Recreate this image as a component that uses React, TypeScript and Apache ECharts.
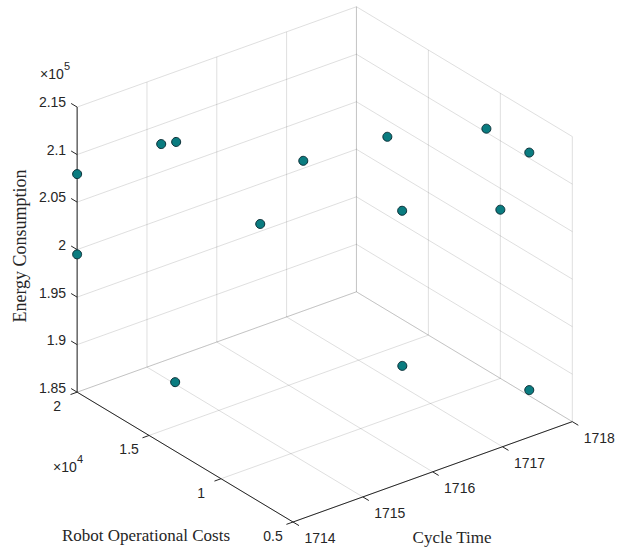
import React, { useEffect, useRef } from "react";
import * as echarts from "echarts";

// ---- data ----
const cycleTime = [1714, 1714, 1715, 1715, 1716, 1716, 1717, 1716, 1718, 1718, 1718, 1715, 1717, 1718];
const robotCosts = [20000, 20000, 19010, 17970, 16980, 13990, 13000, 7120, 10970, 7990, 10000, 18040, 11960, 7990];
const energy = [207950, 199500, 209370, 210540, 200170, 209540, 210330, 210540, 210390, 210590, 202750, 185200, 187170, 185600];

const ctTicks = [1714, 1715, 1716, 1717, 1718];
const ctTickLabels = ["1714", "1715", "1716", "1717", "1718"];
const rocTicks = [5000, 10000, 15000, 20000];
const rocTickLabels = ["0.5", "1", "1.5", "2"];
const eTicks = [185000, 190000, 195000, 200000, 205000, 210000, 215000];
const eTickLabels = ["1.85", "1.9", "1.95", "2", "2.05", "2.1", "2.15"];

const CT_MIN = 1714, CT_MAX = 1718;
const ROC_MIN = 5000, ROC_MAX = 20000;
const E_MIN = 185000, E_MAX = 215000;

// ---- view (orthographic 3D projection) ----
const AZ = (37.7 * Math.PI) / 180;
const EL = (27.7 * Math.PI) / 180;
const BOX = [353, 353, 322];
const ORIGIN = [293, 522];

function project(ct: number, roc: number, e: number): [number, number] {
  const u = (ct - CT_MIN) / (CT_MAX - CT_MIN);
  const v = (roc - ROC_MIN) / (ROC_MAX - ROC_MIN);
  const w = (e - E_MIN) / (E_MAX - E_MIN);
  const x = ORIGIN[0] + BOX[0] * u * Math.cos(AZ) - BOX[1] * v * Math.sin(AZ);
  const y =
    ORIGIN[1] -
    (BOX[0] * u * Math.sin(AZ) + BOX[1] * v * Math.cos(AZ)) * Math.sin(EL) -
    BOX[2] * w * Math.cos(EL);
  return [x, y];
}

function seg(a: [number, number, number], b: [number, number, number]) {
  const p = project(a[0], a[1], a[2]);
  const q = project(b[0], b[1], b[2]);
  return [p[0], p[1], q[0], q[1]];
}

function unitDir(a: [number, number], b: [number, number]): [number, number] {
  const dx = b[0] - a[0], dy = b[1] - a[1];
  const l = Math.hypot(dx, dy);
  return [dx / l, dy / l];
}

const TICK_LEN = 7;
const SANS = "Liberation Sans, Arial, sans-serif";
const SERIF = "Liberation Serif, Times New Roman, serif";
const TXT = "#262626";

export default function App() {
  const ref = useRef<HTMLDivElement>(null);

  useEffect(() => {
    if (!ref.current) return;
    const chart = echarts.init(ref.current, undefined, { renderer: "svg" });

    // grid lines
    const gridSegs: number[][] = [];
    // back-left wall (ROC = max)
    ctTicks.forEach((ct) => gridSegs.push(seg([ct, ROC_MAX, E_MIN], [ct, ROC_MAX, E_MAX])));
    eTicks.forEach((e) => gridSegs.push(seg([CT_MIN, ROC_MAX, e], [CT_MAX, ROC_MAX, e])));
    // back-right wall (CT = max)
    rocTicks.forEach((r) => gridSegs.push(seg([CT_MAX, r, E_MIN], [CT_MAX, r, E_MAX])));
    eTicks.forEach((e) => gridSegs.push(seg([CT_MAX, ROC_MIN, e], [CT_MAX, ROC_MAX, e])));
    // floor
    ctTicks.forEach((ct) => gridSegs.push(seg([ct, ROC_MIN, E_MIN], [ct, ROC_MAX, E_MIN])));
    rocTicks.forEach((r) => gridSegs.push(seg([CT_MIN, r, E_MIN], [CT_MAX, r, E_MIN])));

    // axis directions
    const o = project(CT_MIN, ROC_MIN, E_MIN);
    const ctDir = unitDir(o, project(CT_MAX, ROC_MIN, E_MIN));
    const rocDir = unitDir(o, project(CT_MIN, ROC_MAX, E_MIN));

    const axisSegs: number[][] = [];
    axisSegs.push(seg([CT_MIN, ROC_MAX, E_MIN], [CT_MIN, ROC_MAX, E_MAX]));
    axisSegs.push(seg([CT_MIN, ROC_MIN, E_MIN], [CT_MIN, ROC_MAX, E_MIN]));
    axisSegs.push(seg([CT_MIN, ROC_MIN, E_MIN], [CT_MAX, ROC_MIN, E_MIN]));

    const labelPts: number[][] = [];
    const labelTexts: string[] = [];
    const labelAlign: string[] = [];

    // z ticks (pointing +ROC)
    eTicks.forEach((e, i) => {
      const p = project(CT_MIN, ROC_MAX, e);
      const q = [p[0] + rocDir[0] * TICK_LEN, p[1] + rocDir[1] * TICK_LEN];
      axisSegs.push([p[0], p[1], q[0], q[1]]);
      labelPts.push([q[0] - 5, q[1] - 1]);
      labelTexts.push(eTickLabels[i]);
      labelAlign.push("right");
    });
    // ROC ticks (pointing -CT)
    rocTicks.forEach((r, i) => {
      const p = project(CT_MIN, r, E_MIN);
      axisSegs.push([p[0], p[1], p[0] - ctDir[0] * TICK_LEN, p[1] - ctDir[1] * TICK_LEN]);
      labelPts.push([p[0] - 20, p[1] + 14]);
      labelTexts.push(rocTickLabels[i]);
      labelAlign.push("center");
    });
    // CT ticks (pointing -ROC)
    ctTicks.forEach((c, i) => {
      const p = project(c, ROC_MIN, E_MIN);
      axisSegs.push([p[0], p[1], p[0] - rocDir[0] * TICK_LEN, p[1] - rocDir[1] * TICK_LEN]);
      labelPts.push([p[0] + 27, p[1] + 16]);
      labelTexts.push(ctTickLabels[i]);
      labelAlign.push("center");
    });

    const points = cycleTime.map((ct, i) => project(ct, robotCosts[i], energy[i]));

    const lineRender = (stroke: string, lw: number) => (params: any, api: any) => {
      const a = api.coord([api.value(0), api.value(1)]);
      const b = api.coord([api.value(2), api.value(3)]);
      return {
        type: "line",
        shape: { x1: a[0], y1: a[1], x2: b[0], y2: b[1] },
        style: { stroke, lineWidth: lw },
      };
    };

    const option: any = {
      animation: false,
      backgroundColor: "#ffffff",
      grid: { left: 0, right: 0, top: 0, bottom: 0 },
      xAxis: { type: "value", min: 0, max: 626, show: false },
      yAxis: { type: "value", min: 0, max: 550, inverse: true, show: false },
      graphic: [
        {
          type: "text",
          x: 20,
          y: 246,
          rotation: Math.PI / 2,
          style: { text: "Energy Consumption", fontSize: 18, fontFamily: SERIF, fill: TXT, align: "center", verticalAlign: "middle" },
        },
        {
          type: "text",
          x: 146,
          y: 535,
          style: { text: "Robot Operational Costs", fontSize: 17, fontFamily: SERIF, fill: TXT, align: "center", verticalAlign: "middle" },
        },
        {
          type: "text",
          x: 452,
          y: 537,
          style: { text: "Cycle Time", fontSize: 17, fontFamily: SERIF, fill: TXT, align: "center", verticalAlign: "middle" },
        },
        {
          type: "text",
          x: 40,
          y: 74,
          style: { text: "×10", fontSize: 14, fontFamily: SANS, fill: TXT, align: "left", verticalAlign: "middle" },
        },
        {
          type: "text",
          x: 64,
          y: 66,
          style: { text: "5", fontSize: 11, fontFamily: SANS, fill: TXT, align: "left", verticalAlign: "middle" },
        },
        {
          type: "text",
          x: 53,
          y: 467,
          style: { text: "×10", fontSize: 14, fontFamily: SANS, fill: TXT, align: "left", verticalAlign: "middle" },
        },
        {
          type: "text",
          x: 77,
          y: 459,
          style: { text: "4", fontSize: 11, fontFamily: SANS, fill: TXT, align: "left", verticalAlign: "middle" },
        },
      ],
      series: [
        {
          type: "custom",
          silent: true,
          renderItem: lineRender("rgba(38,38,38,0.15)", 1),
          data: gridSegs,
          z: 1,
        },
        {
          type: "custom",
          silent: true,
          renderItem: lineRender("#262626", 1),
          data: axisSegs,
          z: 2,
        },
        {
          type: "custom",
          silent: true,
          renderItem: (params: any, api: any) => {
            const p = api.coord([api.value(0), api.value(1)]);
            return {
              type: "text",
              x: p[0],
              y: p[1],
              style: {
                text: labelTexts[params.dataIndex],
                fontSize: 14,
                fontFamily: SANS,
                fill: TXT,
                align: labelAlign[params.dataIndex],
                verticalAlign: "middle",
              },
            };
          },
          data: labelPts,
          z: 3,
        },
        {
          type: "scatter",
          silent: true,
          symbol: "circle",
          symbolSize: 9,
          itemStyle: { color: "#0a7c80", borderColor: "#0b2f37", borderWidth: 1, opacity: 1 },
          data: points,
          z: 4,
        },
      ],
    };

    chart.setOption(option);
    return () => chart.dispose();
  }, []);

  return (
    <div
      ref={ref}
      style={{ position: "fixed", left: 0, top: 0, width: 626, height: 550, background: "#fff" }}
    />
  );
}
